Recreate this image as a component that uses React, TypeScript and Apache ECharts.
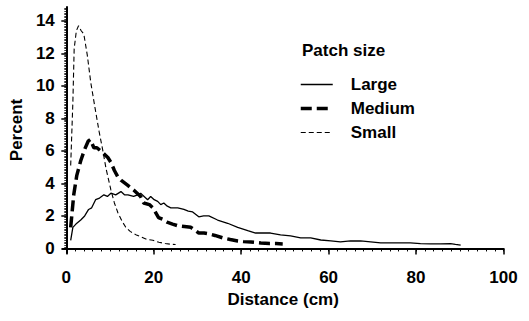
import React, { useEffect, useRef } from "react";
import * as echarts from "echarts";

const largeX = [1.0, 1.5, 2.2, 3.3, 4.2, 5.1, 5.8, 6.7, 7.6, 8.6, 9.4, 10.2, 11.3, 12.5, 13.3, 14.1, 15.4, 16.3, 17.0, 17.8, 18.6, 19.3, 20.1, 20.9, 21.6, 22.3, 23.1, 23.9, 25.5, 26.9, 27.9, 28.9, 30.3, 31.4, 32.6, 34.6, 36.9, 39.2, 41.5, 43.3, 44.5, 46.7, 49.0, 51.3, 53.6, 55.9, 58.2, 60.5, 62.7, 65.0, 67.3, 69.6, 71.9, 74.2, 76.5, 78.7, 81.0, 83.3, 85.6, 87.9, 89.0, 90.2];
const largeY = [0.5, 1.3, 1.5, 1.75, 2.0, 2.4, 2.5, 3.0, 3.1, 3.3, 3.2, 3.4, 3.3, 3.5, 3.3, 3.3, 3.2, 3.3, 3.4, 3.2, 3.0, 3.2, 3.0, 2.9, 2.7, 2.8, 2.6, 2.5, 2.5, 2.4, 2.3, 2.25, 1.95, 2.0, 2.0, 1.75, 1.55, 1.3, 1.1, 0.95, 0.95, 0.95, 0.83, 0.77, 0.65, 0.65, 0.52, 0.46, 0.4, 0.46, 0.46, 0.4, 0.34, 0.34, 0.34, 0.34, 0.3, 0.28, 0.28, 0.3, 0.25, 0.2];

const mediumX = [1.0, 1.7, 2.4, 3.3, 4.2, 5.0, 5.5, 6.3, 7.0, 8.3, 9.5, 10.2, 11.0, 11.8, 12.5, 14.0, 15.4, 17.0, 17.7, 19.0, 19.8, 21.1, 22.0, 23.2, 24.3, 25.5, 27.0, 28.5, 30.3, 31.5, 32.6, 34.0, 35.8, 37.5, 39.2, 40.5, 42.2, 44.5, 46.5, 48.0, 49.5];
const mediumY = [1.3, 3.3, 4.5, 5.4, 6.1, 6.6, 6.7, 6.2, 6.2, 5.9, 5.6, 5.3, 4.8, 4.4, 4.2, 3.9, 3.6, 3.2, 2.8, 2.7, 2.5, 1.9, 1.8, 1.6, 1.5, 1.4, 1.35, 1.3, 0.95, 0.95, 0.9, 0.8, 0.65, 0.55, 0.46, 0.42, 0.4, 0.34, 0.3, 0.3, 0.28];

const smallX = [1.0, 1.5, 1.8, 2.3, 2.8, 3.4, 4.0, 4.8, 5.6, 6.6, 7.5, 8.3, 9.1, 10.2, 11.0, 11.8, 12.7, 13.6, 14.6, 15.9, 17.2, 18.5, 19.8, 21.2, 22.6, 24.0, 25.0];
const smallY = [5.1, 9.0, 12.3, 13.4, 13.7, 13.4, 13.2, 11.9, 10.2, 8.6, 7.2, 6.1, 4.9, 3.6, 2.8, 2.2, 1.7, 1.3, 1.05, 0.85, 0.7, 0.55, 0.5, 0.38, 0.3, 0.26, 0.24];

const xTickLabels = [0, 20, 40, 60, 80, 100];
const yTickLabels = [0, 2, 4, 6, 8, 10, 12, 14];

const xMinorTicks: number[] = [];
for (let i = 0; i <= 50; i++) xMinorTicks.push(i * 2);
const yMinorTicks: number[] = [];
for (let i = 0; i <= 148; i++) yMinorTicks.push(i / 10);

const FONT = "Liberation Sans";
const X_MIN = -0.8;
const X_MAX = 100;
const Y_MIN = -0.28;
const Y_MAX = 14.86;

const LARGE_STYLE = { color: "#000", width: 1.3, type: "solid" as any };
const MEDIUM_STYLE = { color: "#000", width: 3.5, type: [11, 5] as any };
const SMALL_STYLE = { color: "#000", width: 1.1, type: [5, 3] as any };

const pairs = (xs: number[], ys: number[]) => xs.map((x, i) => [x, ys[i]]);

export default function App() {
  const ref = useRef<HTMLDivElement>(null);
  useEffect(() => {
    if (!ref.current) return;
    const chart = echarts.init(ref.current, null, { renderer: "svg" });
    const axisFont = { fontFamily: FONT, fontWeight: "bold" as const, fontSize: 17, color: "#000" };
    const legendItem = (name: string, ls: any) => ({
      name,
      itemStyle: { opacity: 0, borderWidth: 0, color: "rgba(0,0,0,0)" },
      lineStyle: { ...ls, opacity: 1 },
    });
    chart.setOption({
      animation: false,
      backgroundColor: "#fff",
      title: {
        text: "Patch size",
        left: 302,
        top: 42,
        padding: 0,
        textStyle: { fontFamily: FONT, fontWeight: "bold", fontSize: 17, color: "#000" },
      },
      legend: {
        data: [
          legendItem("Large", LARGE_STYLE),
          legendItem("Medium", MEDIUM_STYLE),
          legendItem("Small", SMALL_STYLE),
        ],
        orient: "vertical",
        left: 299,
        top: 76,
        padding: 0,
        itemWidth: 32,
        itemHeight: 14,
        itemGap: 7,
        textStyle: { fontFamily: FONT, fontWeight: "bold", fontSize: 17, color: "#000", padding: [0, 0, 0, 13] },
      },
      grid: { left: 62, right: 25.5, top: 7, bottom: 68, containLabel: false },
      xAxis: [
        {
          type: "value",
          min: X_MIN,
          max: X_MAX,
          position: "bottom",
          splitLine: { show: false },
          axisLine: { show: true, lineStyle: { color: "#000", width: 2 } },
          axisTick: { show: true, customValues: xTickLabels, length: 6, lineStyle: { color: "#000", width: 1.5 } },
          axisLabel: { customValues: xTickLabels, margin: 16, ...axisFont },
          name: "Distance (cm)",
          nameLocation: "middle",
          nameGap: 37,
          nameTextStyle: { fontFamily: FONT, fontWeight: "bold", fontSize: 17, color: "#000" },
        },
        {
          type: "value",
          min: X_MIN,
          max: X_MAX,
          position: "bottom",
          splitLine: { show: false },
          axisLine: { show: false },
          axisTick: { show: true, customValues: xMinorTicks, length: 3, lineStyle: { color: "#000", width: 1 } },
          axisLabel: { show: false },
        },
      ],
      yAxis: [
        {
          type: "value",
          min: Y_MIN,
          max: Y_MAX,
          position: "left",
          splitLine: { show: false },
          axisLine: { show: true, lineStyle: { color: "#000", width: 2 } },
          axisTick: { show: true, customValues: yTickLabels, length: 5, lineStyle: { color: "#000", width: 1.5 } },
          axisLabel: { customValues: yTickLabels, margin: 8, ...axisFont },
          name: "Percent",
          nameLocation: "middle",
          nameRotate: 90,
          nameGap: 30,
          nameTextStyle: { fontFamily: FONT, fontWeight: "bold", fontSize: 17, color: "#000" },
        },
        {
          type: "value",
          min: Y_MIN,
          max: Y_MAX,
          position: "left",
          splitLine: { show: false },
          axisLine: { show: false },
          axisTick: { show: true, customValues: yMinorTicks, length: 2, lineStyle: { color: "#000", width: 0.8 } },
          axisLabel: { show: false },
        },
      ],
      series: [
        {
          name: "Large",
          type: "line",
          data: pairs(largeX, largeY),
          symbol: "none",
          itemStyle: { color: "#000" },
          lineStyle: LARGE_STYLE,
        },
        {
          name: "Medium",
          type: "line",
          data: pairs(mediumX, mediumY),
          symbol: "none",
          itemStyle: { color: "#000" },
          lineStyle: MEDIUM_STYLE,
        },
        {
          name: "Small",
          type: "line",
          data: pairs(smallX, smallY),
          symbol: "none",
          itemStyle: { color: "#000" },
          lineStyle: SMALL_STYLE,
        },
      ],
    });
    return () => chart.dispose();
  }, []);
  return (
    <div
      ref={ref}
      style={{ position: "fixed", left: 0, top: 0, width: 529, height: 321, background: "#fff" }}
    />
  );
}
